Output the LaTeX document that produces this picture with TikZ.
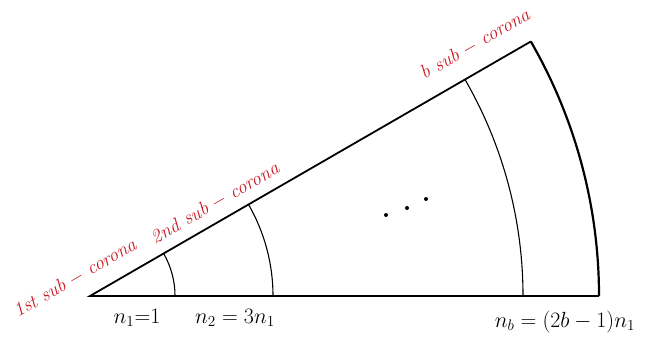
\documentclass[tikz,border=0pt]{standalone}
\usepackage{xcolor}
\usetikzlibrary{calc}
\definecolor{lblred}{RGB}{200,25,35}
\begin{document}
\begin{tikzpicture}[x=1pt,y=1pt,
  edge/.style={line width=1.8pt,line join=miter},
  subarc/.style={line width=1.1pt},
  redlbl/.style={text=lblred,rotate=30,scale=1.12,anchor=center,inner sep=0pt,font=\fontsize{17.28}{20}\selectfont},
  botlbl/.style={anchor=center,scale=1.27,inner sep=0pt,font=\fontsize{17.28}{20}\selectfont},
  dotmark/.style={circle,fill=black,inner sep=0pt,minimum size=4pt}]
\useasboundingbox (0,0) rectangle (666,339);
\coordinate (O) at (90,43);
\coordinate (E) at (599,43);
\coordinate (T) at ($(O)+(30:509)$);
% wedge
\draw[edge] (E) -- (O) -- (T);
\draw[line width=2.2pt] (E) arc[start angle=0,end angle=30,radius=509];
% sub-corona arcs
\draw[subarc] ($(O)+(85,0)$) arc[start angle=0,end angle=30,radius=85];
\draw[subarc] ($(O)+(183,0)$) arc[start angle=0,end angle=30,radius=183];
\draw[subarc] ($(O)+(433,0)$) arc[start angle=0,end angle=30,radius=433];
% dots
\node[dotmark] (d1) at (386,124) {};
\node[dotmark] (d2) at (407,131) {};
\node[dotmark] (d3) at (426,140) {};
% labels
\node[redlbl] (l1) at (75,61) {\textit{1st sub} $-$ \textit{corona}};
\node[redlbl] (l2) at (215,136) {\textit{2nd sub} $-$ \textit{corona}};
\node[redlbl] (l3) at (475,295) {\textit{b sub} $-$ \textit{corona}};
\node[botlbl] (n1) at (137,21) {$n_1$=1};
\node[botlbl] (n2) at (235,21) {$n_2 = 3n_1$};
\node[botlbl] (nb) at (565,17) {$n_b = (2b-1)n_1$};
\end{tikzpicture}
\end{document}
